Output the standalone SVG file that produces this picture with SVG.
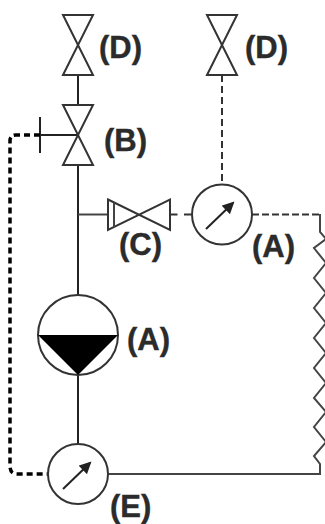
<svg xmlns="http://www.w3.org/2000/svg" width="325" height="524" viewBox="0 0 325 524">
<style>
.l{fill:none;stroke:#222;stroke-width:2}
.g{fill:none;stroke:#444;stroke-width:2}
.v{fill:#fff;stroke:#333;stroke-width:2}
.d{fill:none;stroke:#333;stroke-width:2;stroke-dasharray:7 4}
.t{font-family:"Liberation Sans",Arial,sans-serif;font-weight:700;font-size:31px;fill:#2b2b2b;stroke:#2b2b2b;stroke-width:.4}
</style>
<defs><marker id="ah" markerUnits="userSpaceOnUse" markerWidth="14" markerHeight="14" refX="10" refY="6" orient="auto"><path d="M0 0L12 6L0 12Z" fill="#222"/></marker></defs>
<rect width="325" height="524" fill="#fff"/>
<g id="connectors">
<path class="l" d="M78 75V105M78 165V295M78 375V444"/>
<path class="g" d="M78 214.500H108"/>
<path class="l" d="M40 135H78M40 117V153"/>
<path fill="none" stroke="#000" stroke-width="3.500" stroke-dasharray="6 4" d="M40 135H16Q10 135 10 141V466Q10 474 17 474H48"/>
<path class="d" d="M222 75V184"/>
<path class="d" d="M170 214.500H192" style="stroke-dasharray:7.500 6.500"/>
<path class="d" d="M252 214.500H320" style="stroke-dasharray:7 3"/>
<path class="g" d="M320 214V232L326 239L314 248L326 263L314 278L326 293L314 308L326 323L314 338L326 353L314 368L326 383L314 398L326 412L314 427L326 442L314 456L320 464V474H108"/>
</g>
<g id="valve-d1"><path class="v" d="M63 15H93L63 75H93Z"/></g>
<g id="valve-b"><path class="v" d="M63 105H93L63 165H93Z"/></g>
<g id="valve-d2"><path class="v" d="M207 15H237L207 75H237Z"/></g>
<g id="valve-c"><path class="v" d="M108 199.500L170 230V199.500L108 230Z"/><path class="g" d="M114 202.500V227"/></g>
<g id="gauge-a"><circle class="v" cx="222" cy="214.500" r="30"/><path class="l" d="M206 229L233 203" marker-end="url(#ah)"/></g>
<g id="level-a"><circle class="v" cx="78" cy="335" r="40"/><path d="M38 335H118L78 375Z" fill="#000"/></g>
<g id="gauge-e"><circle class="v" cx="78" cy="474" r="30"/><path class="l" d="M63 489L90 463" marker-end="url(#ah)"/></g>
<g id="labels">
<text class="t" x="99" y="58">(D)</text>
<text class="t" x="245" y="58">(D)</text>
<text class="t" x="104" y="151">(B)</text>
<text class="t" x="119" y="255">(C)</text>
<text class="t" x="252" y="257">(A)</text>
<text class="t" x="127" y="350">(A)</text>
<text class="t" x="110" y="517">(E)</text>
</g>
</svg>
